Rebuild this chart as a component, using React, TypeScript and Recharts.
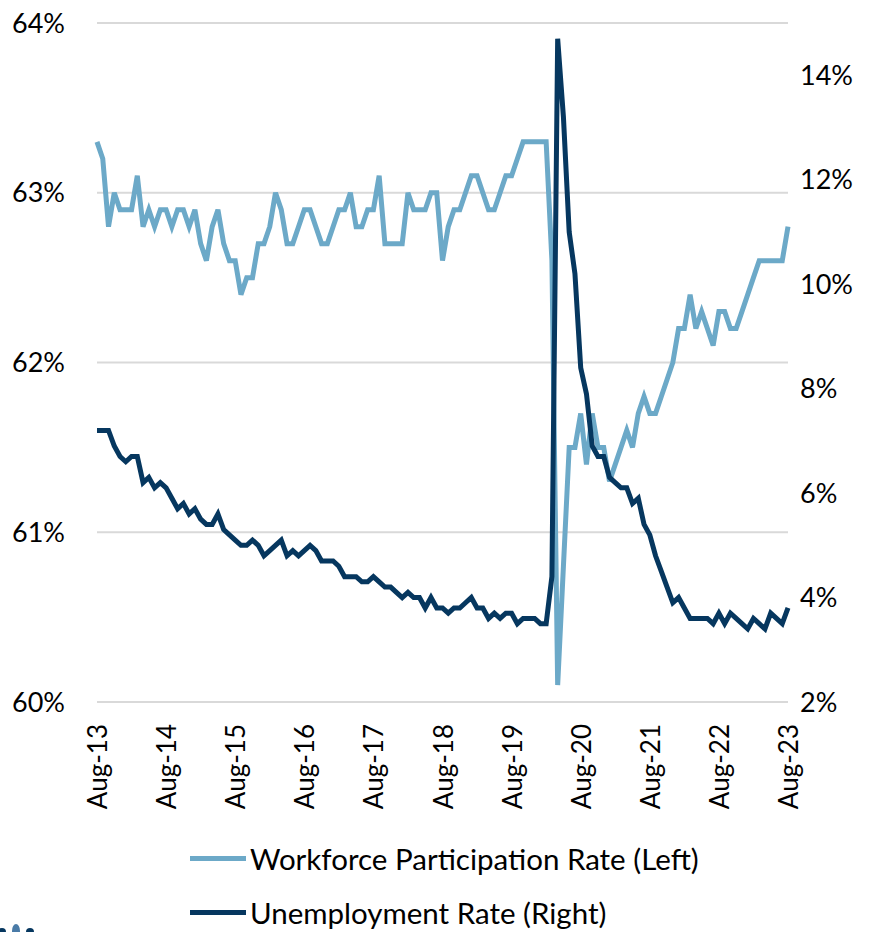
import React from "react";
import { LineChart, Line, XAxis, YAxis, CartesianGrid } from "recharts";

const MONTH_NAMES = ["Jan", "Feb", "Mar", "Apr", "May", "Jun", "Jul", "Aug", "Sep", "Oct", "Nov", "Dec"];

// monthly, Aug-13 .. Aug-23
const months: string[] = [];
for (let i = 0; i <= 120; i++) {
  const k = 7 + i;
  months.push(`${MONTH_NAMES[k % 12]}-${13 + Math.floor(k / 12)}`);
}

const xTickLabels = ["Aug-13", "Aug-14", "Aug-15", "Aug-16", "Aug-17", "Aug-18", "Aug-19", "Aug-20", "Aug-21", "Aug-22", "Aug-23"];
const leftTicks = [60, 61, 62, 63, 64];
const rightTicks = [2, 4, 6, 8, 10, 12, 14];

const participation = [
  63.3, 63.2, 62.8, 63.0, 62.9, 62.9, 62.9, 63.1, 62.8, 62.9, 62.8, 62.9,
  62.9, 62.8, 62.9, 62.9, 62.8, 62.9, 62.7, 62.6, 62.8, 62.9, 62.7, 62.6,
  62.6, 62.4, 62.5, 62.5, 62.7, 62.7, 62.8, 63.0, 62.9, 62.7, 62.7, 62.8,
  62.9, 62.9, 62.8, 62.7, 62.7, 62.8, 62.9, 62.9, 63.0, 62.8, 62.8, 62.9,
  62.9, 63.1, 62.7, 62.7, 62.7, 62.7, 63.0, 62.9, 62.9, 62.9, 63.0, 63.0,
  62.6, 62.8, 62.9, 62.9, 63.0, 63.1, 63.1, 63.0, 62.9, 62.9, 63.0, 63.1,
  63.1, 63.2, 63.3, 63.3, 63.3, 63.3, 63.3, 62.6, 60.1, 60.8, 61.5, 61.5,
  61.7, 61.4, 61.7, 61.5, 61.5, 61.3, 61.4, 61.5, 61.6, 61.5, 61.7, 61.8,
  61.7, 61.7, 61.8, 61.9, 62.0, 62.2, 62.2, 62.4, 62.2, 62.3, 62.2, 62.1,
  62.3, 62.3, 62.2, 62.2, 62.3, 62.4, 62.5, 62.6, 62.6, 62.6, 62.6, 62.6,
  62.8,
];

const unemployment = [
  7.2, 7.2, 7.2, 6.9, 6.7, 6.6, 6.7, 6.7, 6.2, 6.3, 6.1, 6.2,
  6.1, 5.9, 5.7, 5.8, 5.6, 5.7, 5.5, 5.4, 5.4, 5.6, 5.3, 5.2,
  5.1, 5.0, 5.0, 5.1, 5.0, 4.8, 4.9, 5.0, 5.1, 4.8, 4.9, 4.8,
  4.9, 5.0, 4.9, 4.7, 4.7, 4.7, 4.6, 4.4, 4.4, 4.4, 4.3, 4.3,
  4.4, 4.3, 4.2, 4.2, 4.1, 4.0, 4.1, 4.0, 4.0, 3.8, 4.0, 3.8,
  3.8, 3.7, 3.8, 3.8, 3.9, 4.0, 3.8, 3.8, 3.6, 3.7, 3.6, 3.7,
  3.7, 3.5, 3.6, 3.6, 3.6, 3.5, 3.5, 4.4, 14.7, 13.2, 11.0, 10.2,
  8.4, 7.9, 6.9, 6.7, 6.7, 6.3, 6.2, 6.1, 6.1, 5.8, 5.9, 5.4,
  5.2, 4.8, 4.5, 4.2, 3.9, 4.0, 3.8, 3.6, 3.6, 3.6, 3.6, 3.5,
  3.7, 3.5, 3.7, 3.6, 3.5, 3.4, 3.6, 3.5, 3.4, 3.7, 3.6, 3.5,
  3.8,
];

const chartData = months.map((month, i) => ({
  month,
  participation: participation[i],
  unemployment: unemployment[i],
}));

const LIGHT = "#6CA9C8";
const DARK = "#06375F";
const FONT = "Lato, 'Noto Sans', sans-serif";

function XTick({ x, y, payload }: any) {
  return (
    <text
      transform={`translate(${x + 10},${y + 14}) rotate(-90)`}
      textAnchor="end"
      fontSize={26}
      fontFamily={FONT}
      fill="#000"
    >
      {payload.value}
    </text>
  );
}

export default function App() {
  return (
    <div style={{ position: "absolute", left: 0, top: 0, width: 876, height: 932, background: "#fff" }}>
      <LineChart
        width={876}
        height={932}
        data={chartData}
        margin={{ top: 23, right: 0, bottom: 110, left: 0 }}
      >
        <CartesianGrid yAxisId="left" vertical={false} stroke="#D9D9D9" strokeWidth={2} />
        <XAxis
          dataKey="month"
          ticks={xTickLabels}
          interval={0}
          height={120}
          tick={<XTick />}
          tickLine={false}
          axisLine={false}
        />
        <YAxis
          yAxisId="left"
          domain={[60, 64]}
          ticks={leftTicks}
          width={97}
          tickFormatter={(v: number) => `${v}%`}
          tick={{ fontSize: 27, fill: "#000", fontFamily: FONT }}
          tickLine={false}
          axisLine={false}
          tickSize={0}
          tickMargin={32}
        />
        <YAxis
          yAxisId="right"
          orientation="right"
          domain={[2, 15]}
          ticks={rightTicks}
          width={88}
          tickFormatter={(v: number) => `${v}%`}
          tick={{ fontSize: 27, fill: "#000", fontFamily: FONT, textAnchor: "start" }}
          tickLine={false}
          axisLine={false}
          tickSize={0}
          tickMargin={12}
        />
        <Line
          yAxisId="left"
          type="linear"
          dataKey="participation"
          stroke={LIGHT}
          strokeWidth={5}
          dot={false}
          isAnimationActive={false}
        />
        <Line
          yAxisId="right"
          type="linear"
          dataKey="unemployment"
          stroke={DARK}
          strokeWidth={5}
          dot={false}
          isAnimationActive={false}
        />
      </LineChart>

      <div style={{ position: "absolute", left: 190, top: 838, fontFamily: FONT, fontSize: 29.5, color: "#000" }}>
        <div style={{ display: "flex", alignItems: "center", height: 40 }}>
          <span style={{ display: "inline-block", width: 56, height: 5, background: LIGHT, marginRight: 4 }} />
          <span>Workforce Participation Rate (Left)</span>
        </div>
        <div style={{ display: "flex", alignItems: "center", height: 40, marginTop: 14 }}>
          <span style={{ display: "inline-block", width: 56, height: 5, background: DARK, marginRight: 4 }} />
          <span>Unemployment Rate (Right)</span>
        </div>
      </div>

      <svg width={40} height={12} style={{ position: "absolute", left: 0, top: 920 }}>
        <circle cx={2} cy={12} r={4} fill={DARK} />
        <ellipse cx={16} cy={11} rx={4} ry={7} fill="#4A7BA7" />
        <circle cx={30} cy={12} r={4} fill={DARK} />
      </svg>
    </div>
  );
}
